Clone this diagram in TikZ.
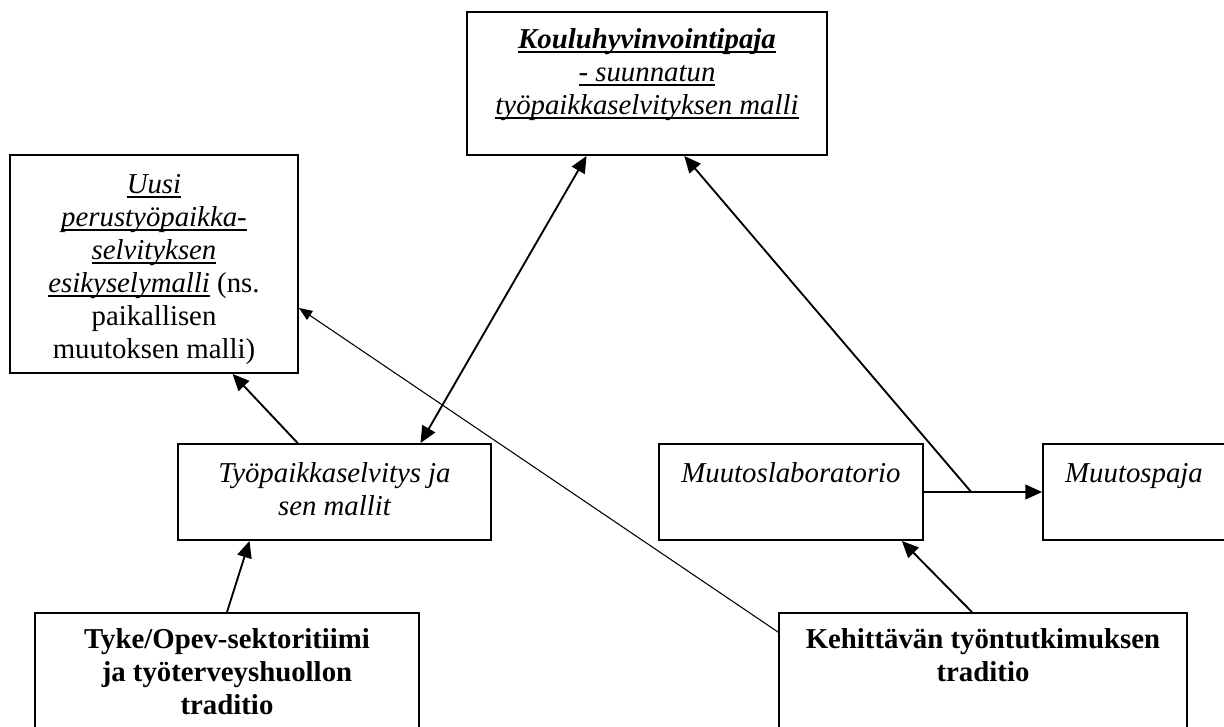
\documentclass[tikz,border=0pt]{standalone}
\usepackage{fontspec}
\setmainfont{Liberation Serif}
\usetikzlibrary{arrows.meta,calc,fit}
% underline at a fixed depth below the baseline, crossing descenders
\newcommand\ulx[1]{\setbox0\hbox{#1}\rlap{\rule[-3.6pt]{\wd0}{1.2pt}}\box0}
\begin{document}
\begin{tikzpicture}[x=0.75pt,y=-0.75pt,
  box/.style={draw,line width=1.4pt,inner sep=0pt,fit={#1}},
  % text nodes are placed by the baseline of their last line
  txt/.style={anchor=base,align=center,inner sep=0pt,
    font=\fontsize{21.6pt}{24.75pt}\selectfont},
  itxt/.style={txt,font=\fontsize{21.6pt}{24.75pt}\selectfont\itshape},
  btxt/.style={txt,font=\fontsize{21.6pt}{24.75pt}\selectfont\bfseries},
  arr/.style={line width=1.4pt,-{Triangle[length=12.5pt,width=11pt]}},
  arrboth/.style={line width=1.4pt,{Triangle[length=12.5pt,width=11pt]}-{Triangle[length=12.5pt,width=11pt]}},
  thinarr/.style={line width=0.8pt,-{Triangle[length=10pt,width=8pt]}}]
\useasboundingbox (0,0) rectangle (1224,726);
\clip (0,0) rectangle (1224,726);

% boxes
\node[box={(467,12) (827,155)}] (top) {};
\node[box={(10,155) (298,373)}] (uusi) {};
\node[box={(178,444) (491,540)}] (tps) {};
\node[box={(659,444) (923,540)}] (mlab) {};
\node[box={(1043,444) (1240,540)}] (mpaja) {};
\node[box={(35,613) (419,760)}] (tyke) {};
\node[box={(779,613) (1187,760)}] (keh) {};

% texts
\node[itxt] (topt) at (647,114)
  {\ulx{\bfseries Kouluhyvinvointipaja}\\ \ulx{- suunnatun}\\ \ulx{työpaikkaselvityksen malli}};
\node[itxt] (uusit) at (154,358)
  {\ulx{Uusi}\\ \ulx{perustyöpaikka-}\\ \ulx{selvityksen}\\ \ulx{esikyselymalli}\upshape{} (ns.\\ \upshape paikallisen\\ \upshape muutoksen malli)};
\node[itxt] (tpst) at (334.5,515) {Työpaikkaselvitys ja\\ sen mallit};
\node[itxt] (mlabt) at (791,482) {Muutoslaboratorio};
\node[itxt] (mpajat) at (1134,482) {Muutospaja};
\node[btxt] (tyket) at (227,714) {Tyke/Opev-sektoritiimi\\ ja työterveyshuollon\\ traditio};
\node[btxt] (keht) at (983,681) {Kehittävän työntutkimuksen\\ traditio};

% connectors
\coordinate (jn) at ($(mlab.east)!0.4!(mpaja.west)$);
\draw[arrboth] ($(top.south west)!0.333!(top.south east)$) -- ($(tps.north west)!0.773!(tps.north east)$);
\draw[arr] (mlab.east) -- (mpaja.west);
\draw[arr] (jn) -- ($(top.south west)!0.603!(top.south east)$);
\draw[arr] ($(tps.north west)!0.383!(tps.north east)$) -- ($(uusi.south west)!0.771!(uusi.south east)$);
\draw[arr] (tyke.north) -- ($(tps.south west)!0.230!(tps.south east)$);
\draw[arr] ($(keh.north west)!0.473!(keh.north east)$) -- ($(mlab.south west)!0.917!(mlab.south east)$);
\draw[thinarr] ($(keh.north west)+(0,20)$) -- ($(uusi.north east)!0.70!(uusi.south east)$);
\end{tikzpicture}
\end{document}
